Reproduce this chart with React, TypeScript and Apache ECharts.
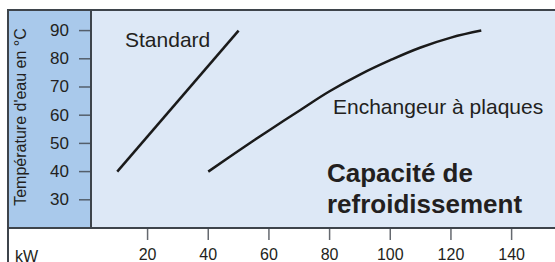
import React, { useEffect, useRef } from "react";
import * as echarts from "echarts";

const standardData: [number, number][] = [
  [10, 40],
  [50, 90],
];
const plaquesData: [number, number][] = [
  [40, 40],
  [50, 47.4],
  [60, 54.6],
  [70, 61.6],
  [80, 68.5],
  [90, 74.4],
  [100, 79.5],
  [110, 84.0],
  [120, 87.5],
  [130, 90],
];
const xTickValues = [20, 40, 60, 80, 100, 120, 140];
const yTickValues = [30, 40, 50, 60, 70, 80, 90];
const X_TICK_START = 20;
const X_TICK_STEP = 20;
const Y_TICK_STEP = 10;

const FONT = "'Liberation Sans', Arial, sans-serif";
const TEXT = "#231f20";
const BORDER = "#3e444b";

const GRID_LEFT = 91;
const GRID_TOP = 10;
const GRID_BOTTOM = 34;
const WIDTH = 555;
const HEIGHT = 262;
const X_MIN = 1.35;
const X_MAX = 154.3;
const Y_MIN = 20;
const Y_MAX = 97.3;
const X_TICK_LEN = 12;
const Y_TICK_LEN = 12;

export default function App() {
  const ref = useRef<HTMLDivElement>(null);
  useEffect(() => {
    if (!ref.current) return;
    const chart = echarts.init(ref.current, null, { renderer: "svg" });
    const pxPerUnit = (WIDTH - GRID_LEFT) / (X_MAX - X_MIN);
    const tickGridLeft = GRID_LEFT + (X_TICK_START - X_MIN) * pxPerUnit;
    const plotH = HEIGHT - GRID_TOP - GRID_BOTTOM;
    chart.setOption({
      animation: false,
      grid: [
        { left: GRID_LEFT, top: GRID_TOP, right: 0, bottom: GRID_BOTTOM, show: false, containLabel: false },
        {
          left: tickGridLeft,
          top: HEIGHT - GRID_BOTTOM,
          right: 0,
          bottom: GRID_BOTTOM - X_TICK_LEN,
          show: false,
          containLabel: false,
        },
      ],
      xAxis: [
        {
          type: "value",
          gridIndex: 0,
          min: X_MIN,
          max: X_MAX,
          splitLine: { show: false },
          axisLine: { show: true, onZero: false, lineStyle: { color: BORDER, width: 2 } },
          axisTick: { show: false },
          axisLabel: { show: false },
        },
        {
          type: "value",
          gridIndex: 1,
          min: X_TICK_START,
          max: X_MAX,
          interval: X_TICK_STEP,
          position: "bottom",
          splitLine: { show: false },
          axisLine: { show: false, onZero: false },
          axisTick: { show: false },
          axisLabel: {
            show: true,
            color: TEXT,
            fontSize: 16,
            fontFamily: FONT,
            margin: 10,
            showMaxLabel: false,
            formatter: (v: number) => (v % X_TICK_STEP === 0 ? String(v) : ""),
          },
        },
      ],
      yAxis: [
        {
          type: "value",
          gridIndex: 0,
          min: Y_MIN,
          max: Y_MAX,
          interval: Y_TICK_STEP,
          splitLine: { show: false },
          axisLine: { show: true, onZero: false, lineStyle: { color: BORDER, width: 2 } },
          axisTick: { show: false },
          axisLabel: {
            show: true,
            color: TEXT,
            fontSize: 17,
            fontFamily: FONT,
            margin: 22,
            showMinLabel: false,
            showMaxLabel: false,
            formatter: (v: number) =>
              v % Y_TICK_STEP === 0 && v !== Y_MIN ? String(v) : "",
          },
        },
        {
          type: "value",
          gridIndex: 1,
          show: false,
        },
      ],
      series: [
        {
          name: "Standard",
          type: "line",
          xAxisIndex: 0,
          yAxisIndex: 0,
          data: standardData,
          symbol: "none",
          lineStyle: { color: "#1a1a1a", width: 2.5 },
          z: 5,
        },
        {
          name: "Enchangeur à plaques",
          type: "line",
          xAxisIndex: 0,
          yAxisIndex: 0,
          data: plaquesData,
          smooth: 0.4,
          symbol: "none",
          lineStyle: { color: "#1a1a1a", width: 2.5 },
          z: 5,
        },
        {
          name: "xTicks",
          type: "scatter",
          xAxisIndex: 0,
          yAxisIndex: 0,
          data: xTickValues.map((v) => [v, Y_MIN]),
          symbol: "rect",
          symbolSize: [1.5, X_TICK_LEN],
          symbolOffset: [0, X_TICK_LEN / 2],
          itemStyle: { color: BORDER },
          clip: false,
          silent: true,
          z: 4,
        },
        {
          name: "yTicks",
          type: "scatter",
          xAxisIndex: 0,
          yAxisIndex: 0,
          data: yTickValues.map((v) => [X_MIN, v]),
          symbol: "rect",
          symbolSize: [Y_TICK_LEN, 1.5],
          symbolOffset: [-Y_TICK_LEN / 2, 0],
          itemStyle: { color: BORDER },
          clip: false,
          silent: true,
          z: 4,
        },
      ],
      graphic: [
        {
          type: "rect",
          shape: { x: GRID_LEFT, y: GRID_TOP, width: WIDTH - GRID_LEFT, height: plotH },
          style: { fill: "#dde8f6" },
          z: -20,
          silent: true,
        },
        {
          type: "rect",
          shape: { x: 8, y: GRID_TOP, width: GRID_LEFT - 8, height: plotH },
          style: { fill: "#a9c9eb" },
          z: -20,
          silent: true,
        },
        {
          type: "line",
          shape: { x1: 7, y1: 10, x2: 555, y2: 10 },
          style: { stroke: BORDER, lineWidth: 2 },
          z: 10,
        },
        {
          type: "line",
          shape: { x1: 8, y1: 9, x2: 8, y2: 262 },
          style: { stroke: BORDER, lineWidth: 2 },
          z: 10,
        },
        {
          type: "line",
          shape: { x1: 8, y1: 228, x2: 92, y2: 228 },
          style: { stroke: BORDER, lineWidth: 2 },
          z: 10,
        },
        {
          type: "text",
          x: 20,
          y: 117,
          rotation: Math.PI / 2,
          style: {
            text: "Température d'eau en °C",
            fill: TEXT,
            fontSize: 16,
            fontFamily: FONT,
            align: "center",
            verticalAlign: "middle",
          },
          z: 10,
        },
        {
          type: "text",
          x: 15,
          y: 256,
          style: {
            text: "kW",
            fill: TEXT,
            fontSize: 16,
            fontFamily: FONT,
            align: "left",
            verticalAlign: "middle",
          },
          z: 10,
        },
        {
          type: "text",
          x: 125,
          y: 39,
          style: {
            text: "Standard",
            fill: TEXT,
            fontSize: 21,
            fontFamily: FONT,
            align: "left",
            verticalAlign: "middle",
          },
          z: 10,
        },
        {
          type: "text",
          x: 333,
          y: 106,
          style: {
            text: "Enchangeur à plaques",
            fill: TEXT,
            fontSize: 21,
            fontFamily: FONT,
            align: "left",
            verticalAlign: "middle",
          },
          z: 10,
        },
        {
          type: "text",
          x: 327,
          y: 173,
          style: {
            text: "Capacité de",
            fill: TEXT,
            fontSize: 26,
            fontWeight: "bold",
            fontFamily: FONT,
            align: "left",
            verticalAlign: "middle",
          },
          z: 10,
        },
        {
          type: "text",
          x: 327,
          y: 204,
          style: {
            text: "refroidissement",
            fill: TEXT,
            fontSize: 26,
            fontWeight: "bold",
            fontFamily: FONT,
            align: "left",
            verticalAlign: "middle",
          },
          z: 10,
        },
      ],
    });
    return () => chart.dispose();
  }, []);
  return (
    <div
      ref={ref}
      style={{ position: "absolute", left: 0, top: 0, width: 555, height: 262 }}
    />
  );
}
